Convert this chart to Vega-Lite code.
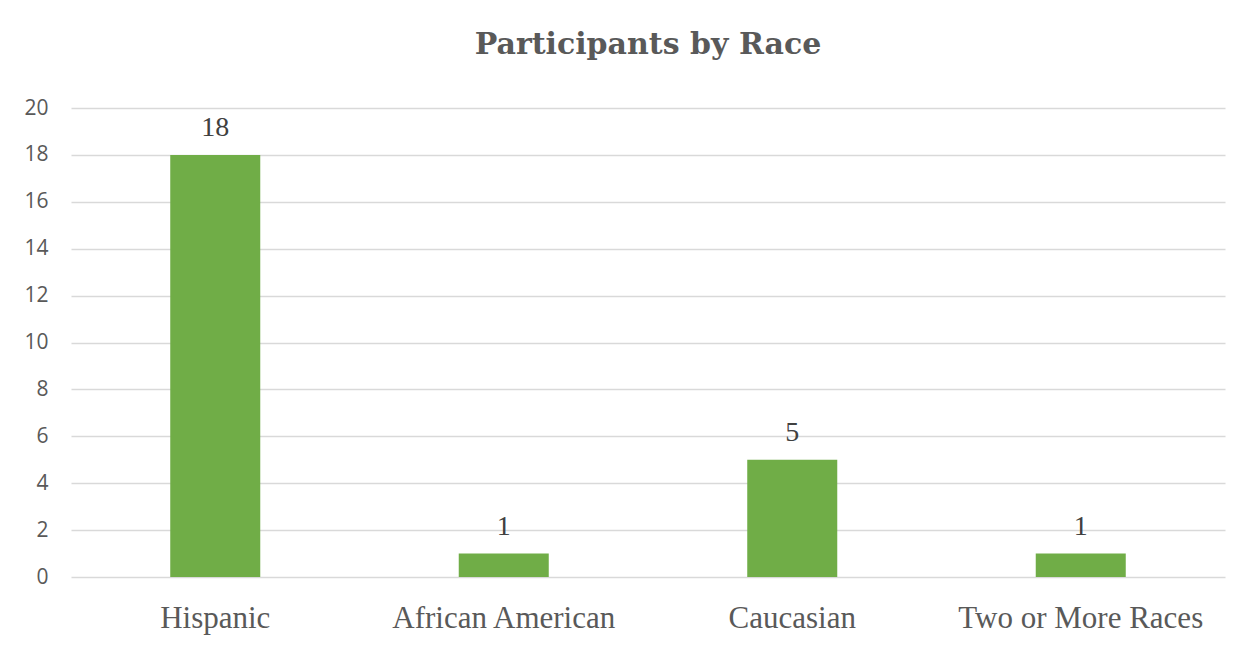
{
  "$schema": "https://vega.github.io/schema/vega-lite/v6.json",
  "width": 1154,
  "height": 469,
  "autosize": {"type": "none"},
  "padding": {"left": 71, "top": 108, "right": 28, "bottom": 73},
  "background": "white",
  "title": {
    "text": "Participants by Race",
    "font": "DejaVu Serif",
    "fontSize": 30,
    "fontWeight": "bold",
    "color": "#595959",
    "anchor": "middle",
    "baseline": "alphabetic",
    "offset": 13
  },
  "data": {
    "values": [
      {"race": "Hispanic", "count": 18},
      {"race": "African American", "count": 1},
      {"race": "Caucasian", "count": 5},
      {"race": "Two or More Races", "count": 1}
    ]
  },
  "encoding": {
    "x": {
      "field": "race",
      "type": "nominal",
      "sort": null,
      "scale": {"paddingInner": 0.688, "paddingOuter": 0.344},
      "axis": {
        "title": null,
        "labelAngle": 0,
        "labelFont": "Liberation Serif",
        "labelFontSize": 31,
        "labelColor": "#595959",
        "labelBaseline": "alphabetic",
        "labelPadding": 50,
        "labelLimit": 0,
        "ticks": false,
        "domain": false
      }
    },
    "y": {
      "field": "count",
      "type": "quantitative",
      "scale": {"domain": [0, 20]},
      "axis": {
        "title": null,
        "values": [0, 2, 4, 6, 8, 10, 12, 14, 16, 18, 20],
        "labelFont": "Open Sans",
        "labelFontSize": 21,
        "labelColor": "#595959",
        "labelPadding": 23,
        "ticks": false,
        "domain": false,
        "grid": true,
        "gridColor": "#D9D9D9",
        "gridWidth": 1.5
      }
    }
  },
  "layer": [
    {"mark": {"type": "bar", "color": "#70AD47"}},
    {
      "mark": {
        "type": "text",
        "font": "Liberation Serif",
        "fontSize": 28,
        "color": "#404040",
        "baseline": "alphabetic",
        "dy": -19
      },
      "encoding": {"text": {"field": "count", "type": "quantitative"}}
    }
  ],
  "config": {"view": {"stroke": null}}
}
